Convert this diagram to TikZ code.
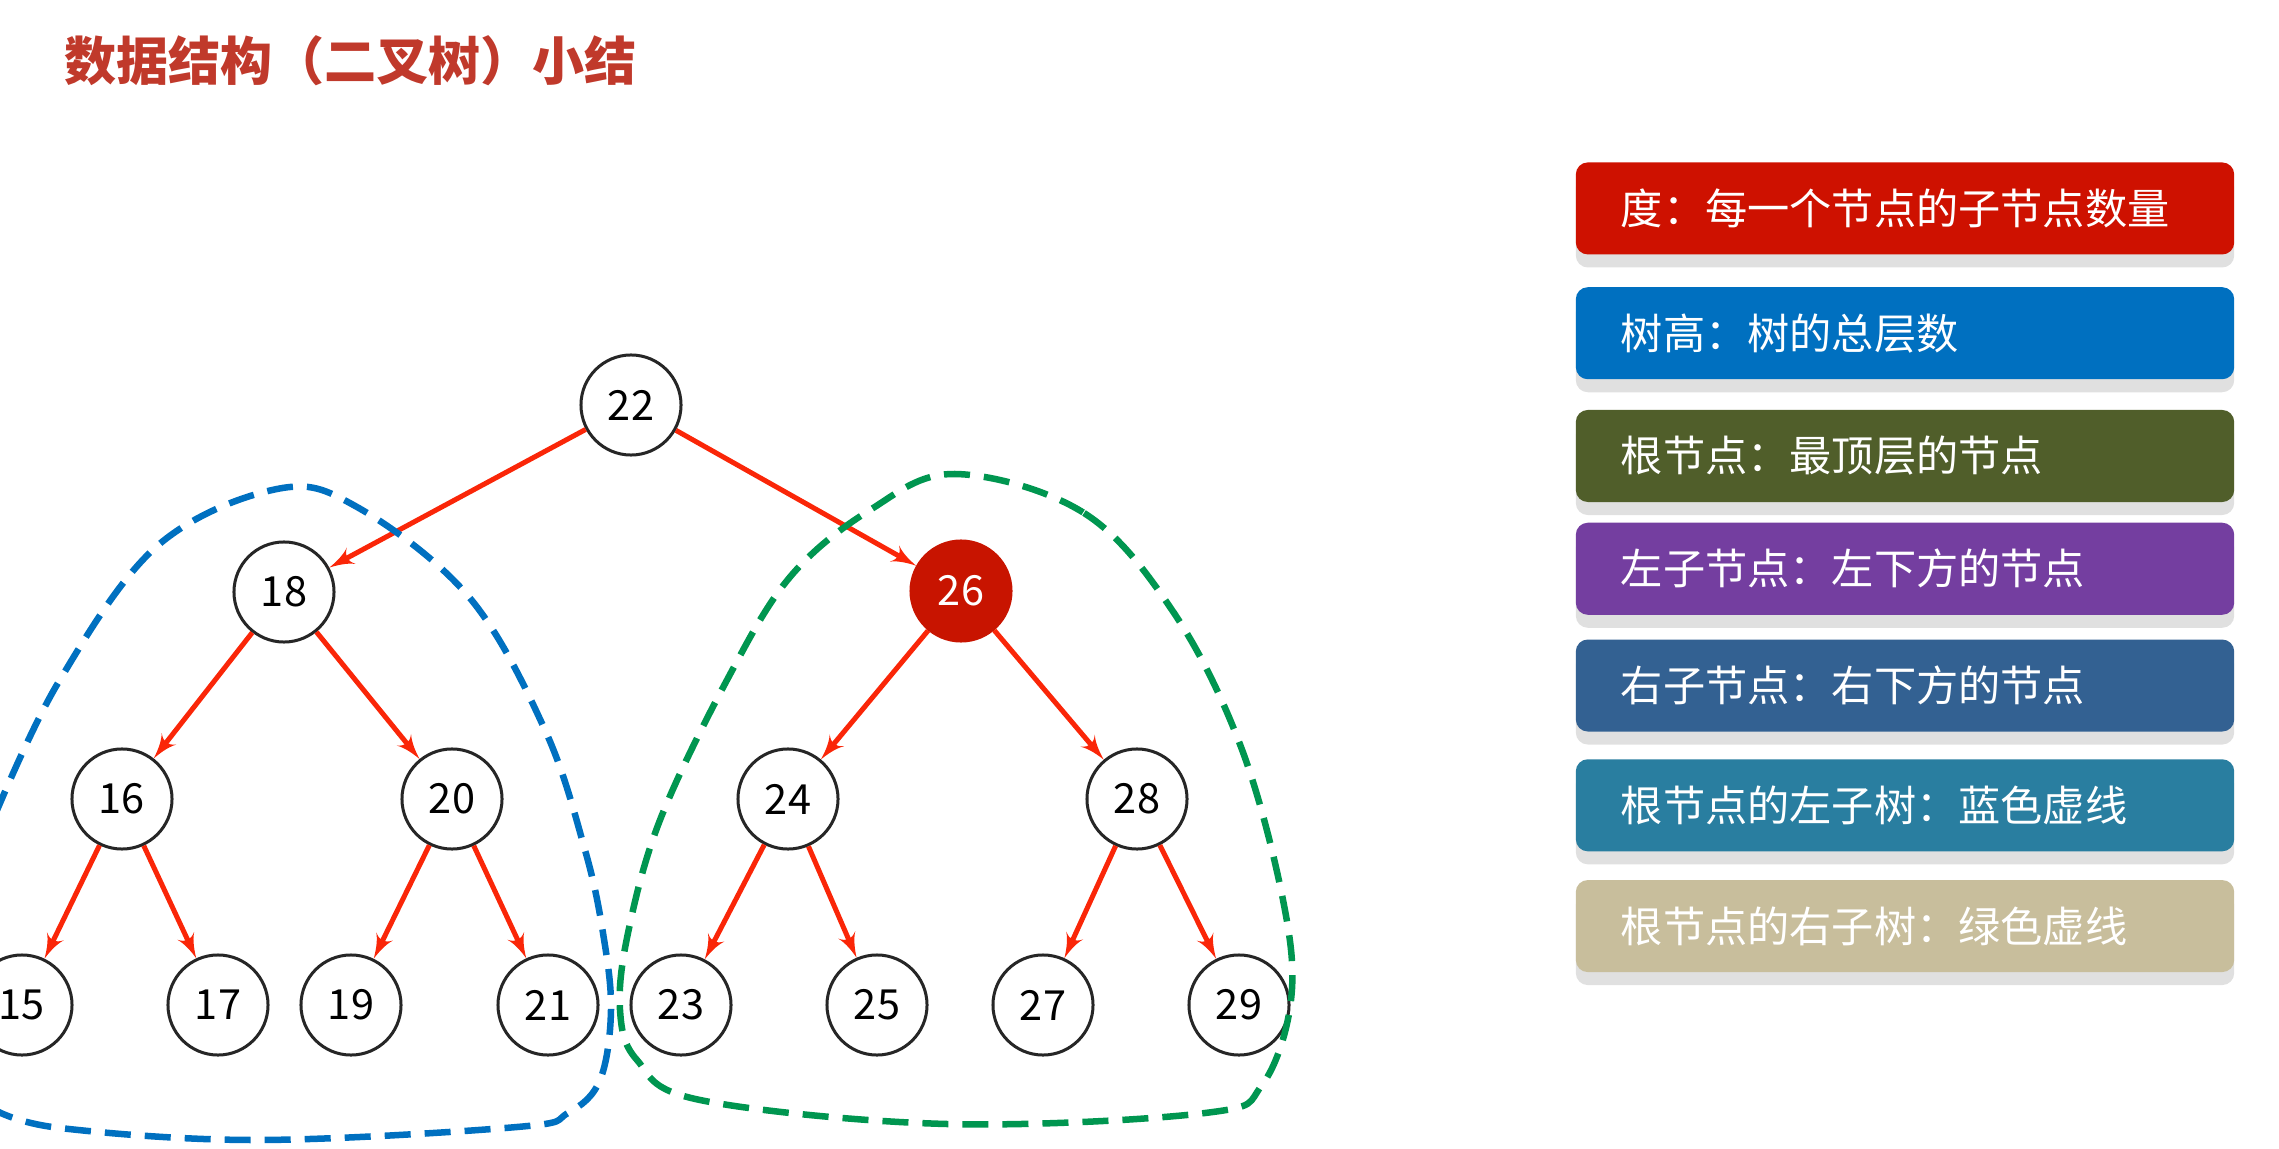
\documentclass[tikz,border=0pt]{standalone}
\usepackage{fontspec}
\setmainfont{Noto Sans CJK SC}
\usepackage{xcolor}
\usepackage{tikz}
\usetikzlibrary{shapes,arrows,shadows,positioning,matrix}

\definecolor{titlered}{RGB}{192,57,43}
\definecolor{edgered}{RGB}{250,38,8}
\definecolor{hotred}{RGB}{200,20,0}
\definecolor{degcol}{RGB}{206,17,0}
\definecolor{heightcol}{RGB}{0,112,192}
\definecolor{rootcol}{RGB}{80,94,42}
\definecolor{leftcol}{RGB}{116,62,160}
\definecolor{rightcol}{RGB}{51,97,146}
\definecolor{lsubcol}{RGB}{41,126,160}
\definecolor{rsubcol}{RGB}{200,190,156}
\definecolor{lsubline}{RGB}{0,112,192}
\definecolor{rsubline}{RGB}{0,150,80}

\begin{document}
\begin{tikzpicture}[x=0.01cm, y=-0.01cm]
  % styles
  \tikzstyle{treenode}=[circle, draw=black!85, line width=0.03cm, fill=white, minimum size=1.0cm, inner sep=0pt, font=\fontsize{11.8}{12}\selectfont]
  \tikzstyle{hotnode}=[treenode, draw=hotred, fill=hotred, text=white]
  \tikzstyle{edge} = [draw, edgered, line width=0.05cm, -latex']
  \tikzstyle{legend}=[rectangle, rounded corners=0.12cm, minimum width=6.58cm, minimum height=0.92cm, text width=5.68cm, inner xsep=0.45cm, align=left, text=white, font=\fontsize{12}{14}\selectfont, drop shadow={shadow xshift=0cm, shadow yshift=-0.13cm, fill=black!12, opacity=1}]
  \tikzstyle{subtree}=[line width=0.065cm, dash pattern=on 0.26cm off 0.14cm]

  \useasboundingbox (0,0) rectangle (2279,1149);
  \clip (0,0) rectangle (2279,1149);

  \node [anchor=west, text=titlered, font=\fontsize{14.8}{16}\selectfont\bfseries] (title) at (52,61) {数据结构（二叉树）小结};

  % tree
  \node [treenode] (n22) at (631,405) {22};
  \node [treenode] (n18) at (284,592) {18};
  \node [hotnode]  (n26) at (961,591) {26};
  \node [treenode] (n16) at (122,799) {16};
  \node [treenode] (n20) at (452,799) {20};
  \node [treenode] (n24) at (788,799) {24};
  \node [treenode] (n28) at (1137,799) {28};
  \node [treenode] (n15) at (22,1005) {15};
  \node [treenode] (n17) at (218,1005) {17};
  \node [treenode] (n19) at (351,1005) {19};
  \node [treenode] (n21) at (548,1005) {21};
  \node [treenode] (n23) at (681,1005) {23};
  \node [treenode] (n25) at (877,1005) {25};
  \node [treenode] (n27) at (1043,1005) {27};
  \node [treenode] (n29) at (1239,1005) {29};

  \foreach \from/\to in {n22/n18, n22/n26, n18/n16, n18/n20, n26/n24, n26/n28,
                         n16/n15, n16/n17, n20/n19, n20/n21, n24/n23, n24/n25, n28/n27, n28/n29}
    \draw [edge] (\from) -- (\to);

  % subtrees of the root
  \draw [subtree, lsubline] plot [smooth, tension=0.6] coordinates {
    (-5,815) (58,683) (156,547) (277,489) (357,507) (469,597) (545,730) (585,850)
    (603,933) (611,1010) (600,1080) (568,1113) (517,1127) (258,1140) (60,1128) (-5,1110)};
  \draw [subtree, rsubline] plot [smooth cycle, tension=0.6] coordinates {
    (955,474) (1084,513) (1174,613) (1241,747) (1283,900) (1291,1000) (1262,1085)
    (1205,1113) (947,1124) (700,1100) (637,1060) (620,1010) (628,933) (660,820)
    (727,680) (790,577) (870,510)};

  % legend
  \matrix [row sep=0.2cm, inner sep=0pt, anchor=north] at (1905,161) {
    \node [legend, fill=degcol] (degree) {度：每一个节点的子节点数量}; \\[0.12cm]
    \node [legend, fill=heightcol] (height) {树高：树的总层数}; \\[0.10cm]
    \node [legend, fill=rootcol] (root) {根节点：最顶层的节点}; \\[0cm]
    \node [legend, fill=leftcol] (left_child) {左子节点：左下方的节点}; \\[0.04cm]
    \node [legend, fill=rightcol] (right_child) {右子节点：右下方的节点}; \\[0.07cm]
    \node [legend, fill=lsubcol] (left_subtree) {根节点的左子树：蓝色虚线}; \\[0.08cm]
    \node [legend, fill=rsubcol] (right_subtree) {根节点的右子树：绿色虚线}; \\
  };
\end{tikzpicture}
\end{document}
